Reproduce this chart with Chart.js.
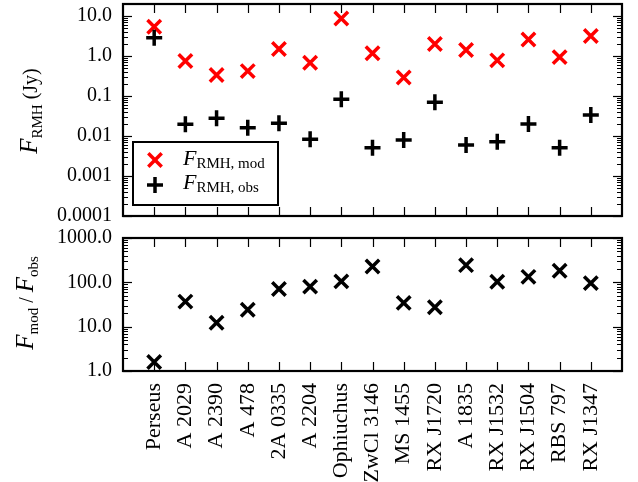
<!DOCTYPE html>
<html>
<head>
<meta charset="utf-8">
<script src="https://cdn.jsdelivr.net/npm/chart.js@4/dist/chart.umd.min.js"></script>
<style>
  body { margin: 0; background: #fff; }
  #wrap { position: relative; width: 638px; height: 482px; }
  canvas { position: absolute; left: 0; }
  #top { top: 0; }
  #bottom { top: 228px; }
</style>
</head>
<body>
<div id="wrap">
  <canvas id="top" width="638" height="232"></canvas>
  <canvas id="bottom" width="638" height="254"></canvas>
</div>
<script>
// clusters along the x axis
const clusters = ['Perseus', 'A 2029', 'A 2390', 'A 478', '2A 0335', 'A 2204', 'Ophiuchus',
  'ZwCl 3146', 'MS 1455', 'RX J1720', 'A 1835', 'RX J1532', 'RX J1504', 'RBS 797', 'RX J1347'];

// flux in Jy
const fluxMod = [5.4, 0.75, 0.335, 0.42, 1.5, 0.68, 8.7, 1.17, 0.29, 2.0, 1.41, 0.78, 2.6, 0.94, 3.16];
const fluxObs = [2.87, 0.0196, 0.0277, 0.0162, 0.0208, 0.0083, 0.0826, 0.0051, 0.0079, 0.0695,
  0.006, 0.0072, 0.02, 0.0051, 0.0335];

// ratio F_mod / F_obs
const ratio = [1.6, 36.8, 12.3, 24, 70.8, 80, 105, 227, 34.4, 27.5, 244, 103, 133, 182, 96];

const topTicks = [0.0001, 0.001, 0.01, 0.1, 1, 10];
const topTickLabels = ['0.0001', '0.001', '0.01', '0.1', '1.0', '10.0'];
const bottomTicks = [1, 10, 100, 1000];
const bottomTickLabels = ['1.0', '10.0', '100.0', '1000.0'];

const FONT = "'Liberation Serif', 'DejaVu Serif', serif";
const tickFont = { family: FONT, size: 20 };
const catFont = { family: FONT, size: 22 };

// text with subscripts, parts = [[text, size, italic, dy]]
function richText(ctx, parts, x, y, rot, center) {
  ctx.save();
  ctx.translate(x, y);
  if (rot) ctx.rotate(-Math.PI / 2);
  ctx.fillStyle = '#000';
  ctx.textBaseline = 'alphabetic';
  ctx.textAlign = 'left';
  let w = 0;
  parts.forEach(p => {
    ctx.font = (p[2] ? 'italic ' : '') + p[1] + 'px ' + FONT;
    w += ctx.measureText(p[0]).width;
  });
  let cx = center ? -w / 2 : 0;
  parts.forEach(p => {
    ctx.font = (p[2] ? 'italic ' : '') + p[1] + 'px ' + FONT;
    ctx.fillText(p[0], cx, p[3]);
    cx += ctx.measureText(p[0]).width;
  });
  ctx.restore();
}

function line(ctx, x1, y1, x2, y2) {
  ctx.beginPath(); ctx.moveTo(x1, y1); ctx.lineTo(x2, y2); ctx.stroke();
}

// inward ticks on all four sides plus the frame
const frameTicks = {
  id: 'frameTicks',
  afterDatasetsDraw(chart) {
    const ctx = chart.ctx, a = chart.chartArea;
    const xs = chart.scales.x, ys = chart.scales.y;
    ctx.save();
    ctx.strokeStyle = '#000';
    ctx.lineWidth = 1.2;
    for (let i = 0; i < clusters.length; i++) {
      const px = Math.round(xs.getPixelForValue(i)) + 0.5;
      line(ctx, px, a.top, px, a.top + 9);
      line(ctx, px, a.bottom, px, a.bottom - 9);
    }
    const e0 = Math.floor(Math.log10(ys.min)), e1 = Math.ceil(Math.log10(ys.max));
    for (let e = e0; e <= e1; e++) {
      for (let m = 1; m < 10; m++) {
        const v = m * Math.pow(10, e);
        if (v < ys.min * 0.999 || v > ys.max * 1.001) continue;
        const py = Math.round(ys.getPixelForValue(v)) + 0.5;
        const len = m === 1 ? 9 : 5;
        ctx.lineWidth = m === 1 ? 1.2 : 1;
        line(ctx, a.left, py, a.left + len, py);
        line(ctx, a.right, py, a.right - len, py);
      }
    }
    ctx.lineWidth = 2.2;
    ctx.strokeRect(a.left, a.top, a.right - a.left, a.bottom - a.top);
    ctx.restore();
  }
};

function drawMark(ctx, style, x, y, r, color, w) {
  ctx.save();
  ctx.strokeStyle = color; ctx.lineWidth = w;
  if (style === 'crossRot') {
    const d = r * Math.SQRT1_2;
    line(ctx, x - d, y - d, x + d, y + d);
    line(ctx, x - d, y + d, x + d, y - d);
  } else {
    line(ctx, x - r, y, x + r, y);
    line(ctx, x, y - r, x, y + r);
  }
  ctx.restore();
}

const topDecor = {
  id: 'topDecor',
  afterDraw(chart) {
    const ctx = chart.ctx;
    // y title
    richText(ctx, [['F', 25, true, 0], ['RMH', 15, false, 5], [' (Jy)', 20, false, 0]], 37, 111, true, true);
    // legend
    ctx.save();
    ctx.fillStyle = '#fff';
    ctx.fillRect(133, 142, 145, 63);
    ctx.strokeStyle = '#000'; ctx.lineWidth = 2;
    ctx.strokeRect(133, 142, 145, 63);
    ctx.restore();
    drawMark(ctx, 'crossRot', 155, 160, 9.5, '#ff0000', 3.5);
    drawMark(ctx, 'cross', 155, 185, 8, '#000', 3.5);
    richText(ctx, [['F', 22, true, 0], ['RMH, mod', 15, false, 3]], 183, 165, false, false);
    richText(ctx, [['F', 22, true, 0], ['RMH, obs', 15, false, 3]], 183, 189, false, false);
  }
};

const bottomDecor = {
  id: 'bottomDecor',
  afterDraw(chart) {
    richText(chart.ctx, [['F', 25, true, 0], ['mod', 15, false, 5], [' / ', 20, false, 0],
      ['F', 25, true, 0], ['obs', 15, false, 5]], 33, 303 - 228, true, true);
  }
};

function yScale(min, max, ticks, labels) {
  return {
    type: 'logarithmic', min: min, max: max,
    afterBuildTicks: s => { s.ticks = ticks.map(v => ({ value: v })); },
    afterFit: s => { s.width = 123; s.paddingTop = 0; s.paddingBottom = 0; },
    ticks: { font: tickFont, color: '#000', padding: 11, autoSkip: false,
      callback: (v, i) => labels[i] },
    grid: { display: false, drawTicks: false },
    border: { display: false }
  };
}

const toPoints = arr => arr.map((v, i) => ({ x: i, y: v }));

new Chart(document.getElementById('top'), {
  type: 'scatter',
  data: {
    datasets: [
      { label: 'F_RMH,mod', data: toPoints(fluxMod), order: 1, pointStyle: 'crossRot',
        radius: 9.5, borderWidth: 3.5, borderColor: '#ff0000', backgroundColor: '#ff0000' },
      { label: 'F_RMH,obs', data: toPoints(fluxObs), order: 0, pointStyle: 'cross',
        radius: 8, borderWidth: 3.5, borderColor: '#000', backgroundColor: '#000' }
    ]
  },
  options: {
    responsive: false, animation: false,
    layout: { autoPadding: false, padding: { left: 0, top: 4, right: 16, bottom: 16 } },
    plugins: { legend: { display: false }, tooltip: { enabled: false } },
    scales: {
      x: { type: 'linear', min: -1, max: 15, display: false },
      y: yScale(0.0001, 20, topTicks, topTickLabels)
    }
  },
  plugins: [frameTicks, topDecor]
});

new Chart(document.getElementById('bottom'), {
  type: 'scatter',
  data: {
    datasets: [
      { label: 'F_mod / F_obs', data: toPoints(ratio), pointStyle: 'crossRot',
        radius: 9.5, borderWidth: 3.5, borderColor: '#000', backgroundColor: '#000' }
    ]
  },
  options: {
    responsive: false, animation: false,
    layout: { autoPadding: false, padding: { left: 0, top: 10, right: 16, bottom: 0 } },
    plugins: { legend: { display: false }, tooltip: { enabled: false } },
    scales: {
      x: {
        type: 'linear', min: -1, max: 15,
        afterBuildTicks: s => { s.ticks = clusters.map((c, i) => ({ value: i })); },
        afterFit: s => { s.height = 111; s.paddingLeft = 0; s.paddingRight = 0; },
        ticks: { font: catFont, color: '#000', padding: 12, autoSkip: false,
          minRotation: 90, maxRotation: 90, callback: (v, i) => clusters[i] },
        grid: { display: false, drawTicks: false },
        border: { display: false }
      },
      y: yScale(1, 1000, bottomTicks, bottomTickLabels)
    }
  },
  plugins: [frameTicks, bottomDecor]
});
</script>
</body>
</html>
